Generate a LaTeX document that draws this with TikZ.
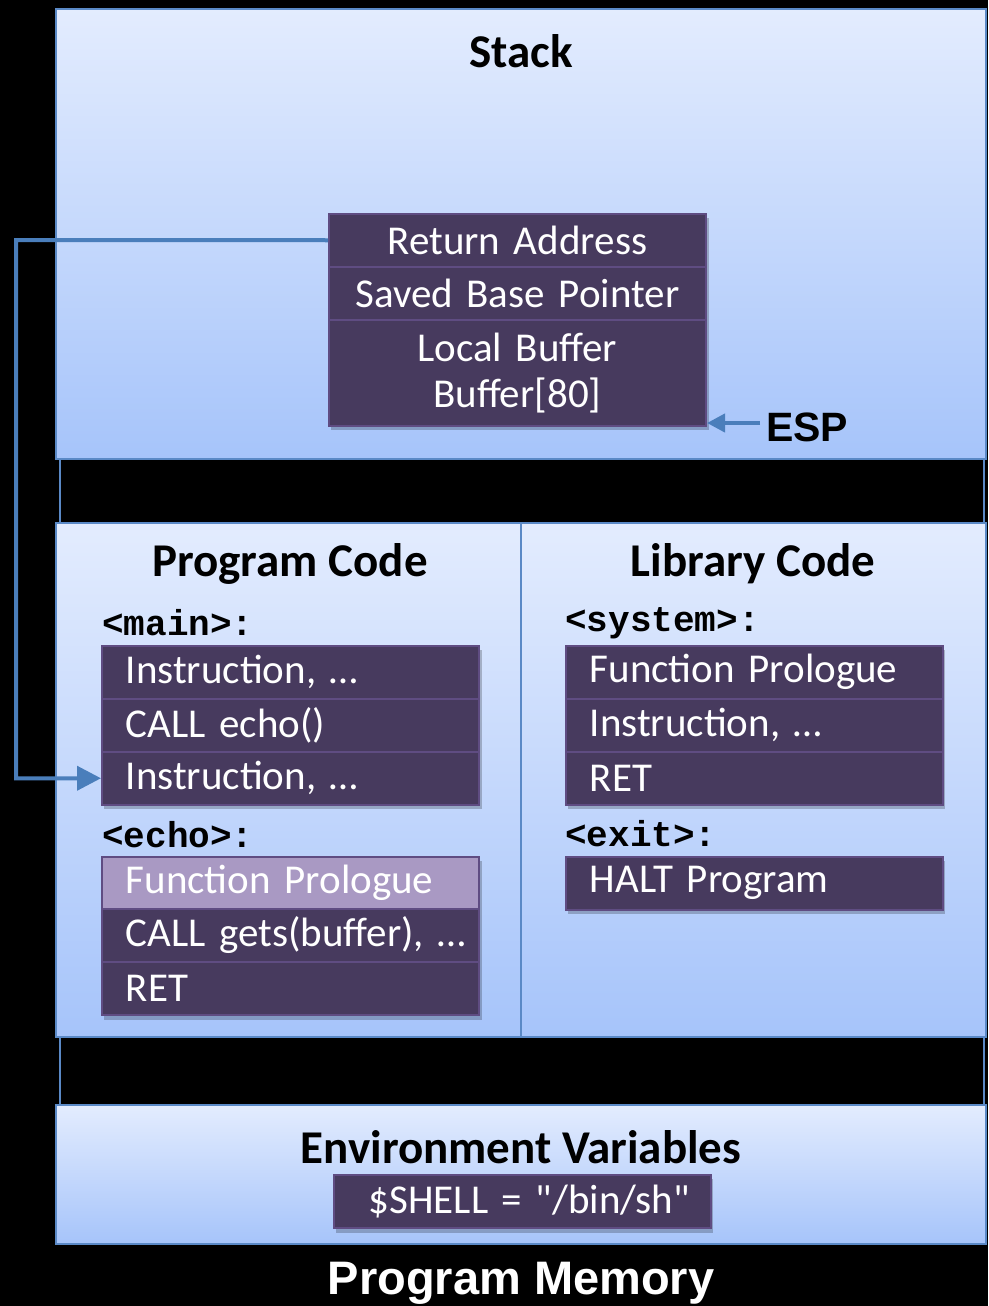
\documentclass[tikz,border=0pt]{standalone}
\usepackage{fontspec}
\setmainfont{Carlito}
\newfontfamily\carlq{Carlito}[Ligatures=TeXOff]
\newfontfamily\arialf{Liberation Sans}
\newfontfamily\monof{Liberation Mono}
\usetikzlibrary{arrows.meta}
\definecolor{pantop}{HTML}{E3ECFE}
\definecolor{panbot}{HTML}{A6C4FA}
\definecolor{panline}{HTML}{5A89C6}
\definecolor{connc}{HTML}{4A7EBB}
\definecolor{rowfill}{HTML}{473A5E}
\definecolor{rowline}{HTML}{5F4C82}
\definecolor{rowlight}{HTML}{A999C3}
\begin{document}
\begin{tikzpicture}[x=1pt,y=-1pt,
  panel/.style={draw=panline, line width=1.6pt, top color=pantop, bottom color=panbot},
  title/.style={font=\bfseries\fontsize{47}{52}\selectfont, text=black, inner sep=0pt},
  lbl/.style={font=\monof\bfseries\fontsize{36}{40}\selectfont, text=black, inner sep=0pt, anchor=west},
  row/.style={draw=rowline, line width=1.5pt, fill=rowfill, text=white,
    font=\fontsize{41}{46}\selectfont, minimum height=53pt, inner xsep=24pt, inner ysep=0pt,
    text width=329pt, align=left, anchor=north west},
  srow/.style={row, inner xsep=6pt, text width=365pt, align=center},
  shadowbox/.style={fill=black, opacity=0.22},
  conn/.style={draw=connc, line width=4pt, -{Triangle[length=24pt,width=24pt]}},
]
\useasboundingbox (0,0) rectangle (988,1306);
\fill[black] (0,0) rectangle (988,1306);
% outer frame behind panels
\draw[panline, line width=1.6pt] (60,12) rectangle (984,1240);
% panels
\path[panel] (56,9) rectangle (986,459);
\path[panel] (56,523) rectangle (986,1037);
\draw[panline, line width=1.6pt] (521,523) -- (521,1037);
\path[panel] (56,1105) rectangle (986,1244);

% titles
\node[title] (tstack) at (521,51) {Stack};
\node[title] (tprog) at (290,564) {Program Code};
\node[title] (tlib) at (753,564) {Library Code};
\node[title] (tenv) at (521,1147) {Environment Variables};
\node[font=\arialf\bfseries\fontsize{47}{52}\selectfont, text=white, inner sep=0pt] (tmem) at (521,1283) {Program Memory};

% shadows
\fill[shadowbox] (331,218) rectangle (709,430);
\fill[shadowbox] (104,650) rectangle (482,809);
\fill[shadowbox] (104,861) rectangle (482,1020);
\fill[shadowbox] (568,650) rectangle (945,809);
\fill[shadowbox] (568,861) rectangle (945,914);
\fill[shadowbox] (336,1179) rectangle (713,1233);

% stack frame
\node[srow] (ra) at (328,213) {Return Address};
\node[srow] (sbp) at (328,266) {Saved Base Pointer};
\node[srow, minimum height=106pt] (lb) at (328,319) {Local Buffer\\Buffer[80]};

% ESP
\node[font=\arialf\bfseries\fontsize{41}{46}\selectfont, text=black, inner sep=0pt, anchor=west] (esp) at (766,427) {ESP};
\coordinate (esptip) at (707,423);
\draw[conn, -{Triangle[length=18pt,width=18pt]}] (esp.west |- esptip) ++(-6,0) -- (esptip);

% main
\node[lbl] (lmain) at (102,623) {<main>:};
\node[row] (m1) at (101,645) {Instruction, …};
\node[row] (m2) at (101,698) {CALL echo()};
\node[row] (m3) at (101,751) {Instruction, …};

% echo
\node[lbl] (lecho) at (102,835) {<echo>:};
\node[row, fill=rowlight] (e1) at (101,856) {Function Prologue};
\node[row] (e2) at (101,908) {\mbox{CALL gets(buffer), …}\hss};
\node[row] (e3) at (101,961) {RET};

% system
\node[lbl] (lsys) at (565,623) {<system>:};
\node[row] (s1) at (565,645) {Function Prologue};
\node[row] (s2) at (565,698) {Instruction, …};
\node[row] (s3) at (565,751) {RET};

% exit
\node[lbl] (lexit) at (565,834) {<exit>:};
\node[row] (x1) at (565,856) {HALT Program};

% env
\node[srow, text width=365pt] (shell) at (333,1174) {\hspace*{14pt}{\carlq \$SHELL = "/bin/sh"}};

% return address connector
\coordinate (bend) at (16,240);
\draw[conn] (ra.west) -- (bend) |- (m3.west);
\end{tikzpicture}
\end{document}
